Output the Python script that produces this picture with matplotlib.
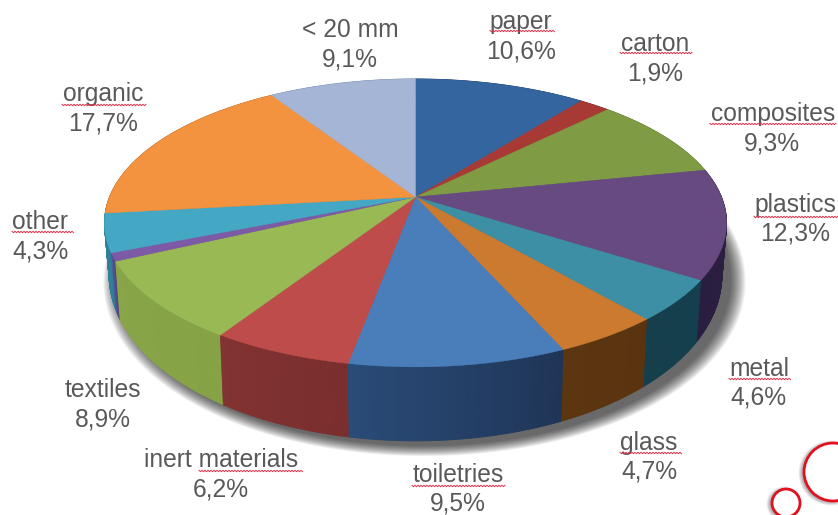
import numpy as np
import matplotlib
matplotlib.use("Agg")
import matplotlib.pyplot as plt
from matplotlib.patches import Circle

plt.rcParams['font.family'] = ['Liberation Sans', 'DejaVu Sans']

# clockwise from 12 o'clock
names = ['paper', 'carton', 'composites', 'plastics', 'metal', 'glass', 'toiletries',
         'inert materials', 'textiles', 'unnamed', 'other', 'organic', '< 20 mm']
values = [10.6, 1.9, 9.3, 12.3, 4.6, 4.7, 9.5, 6.2, 8.9, 0.9, 4.3, 17.7, 9.1]
top_colors = ['#34659f', '#a83a36', '#7f9c44', '#664a80', '#3c8fa5', '#cb7a30', '#4a7ebb',
              '#be4c4a', '#98b954', '#7d5aa6', '#44a8c4', '#f4933f', '#a5b5d5']
wall_start = ['#1f3f68', '#6a2322', '#4f6428', '#2e2044', '#143f4c', '#5a340f', '#1f3557',
              '#7a2e2d', '#86a346', '#5c3f80', '#2f7f98', '#a8601f', '#6a7da0']
wall_end = ['#1f3f68', '#6a2322', '#4f6428', '#2a1e40', '#163f4c', '#5c3610', '#2a4c78',
            '#823332', '#89a648', '#3a6ea0', '#2f7f98', '#a8601f', '#6a7da0']

# label positions in pixels: name line and value line
label_x = [521, 655, 773, 795, 759, 649, 458, 221, 103, None, 40, 103, 350]
label_y = [22, 44, 114, 205, 369, 443, 475, 460, 390, None, 222, 94, 30]
value_dx = [0, 0, -1, 0, -1, 0, 0, 0, 0, None, 0, 0, 0]
# red spell check underlines: x from, x to, y
squiggles = [(490, 555, 31), (620, 692, 53), (710, 836, 124), (754, 838, 217), (729, 790, 379),
             (620, 682, 453), (412, 505, 486), (199, 302, 471), (12, 73, 232), (62, 146, 105)]

cx, cy = 415.5, 197
a, b, k = 306, 139.3, 0.18


def project(theta, wall=False):
    u = np.sin(theta)
    v = np.cos(theta)
    s = 1 / (1 + k * v)
    x = cx + a * u * s
    y = cy - b * v * s
    if wall:
        x = cx + a * 0.985 * u * s
        y = y + 47 - 27 * v
    return x, y


def mix(c1, c2, t):
    c1 = np.array(matplotlib.colors.to_rgb(c1))
    c2 = np.array(matplotlib.colors.to_rgb(c2))
    return tuple(c1 + (c2 - c1) * t)


fig = plt.figure(figsize=(8.38, 5.15), dpi=100)
ax = fig.add_axes([0, 0, 1, 1])
ax.set_xlim(0, 838)
ax.set_ylim(515, 0)
ax.axis('off')

edges = 2 * np.pi * np.cumsum([0] + values) / sum(values)

# soft shadow under the pie, falls to the lower right
full = np.linspace(0, 2 * np.pi, 300)
for i in range(16):
    grow = 1 + 0.0032 * i
    sx, sy = project(full, wall=True)
    ax.fill(cx + (sx - cx) * grow + 9, cy + 30 + (sy - cy - 30) * grow + 5,
            color='black', alpha=0.05, lw=0, zorder=1)

# walls, back to front
quads = []
for i in range(len(values)):
    steps = max(4, int(values[i] * 6))
    t = np.linspace(edges[i], edges[i + 1], steps + 1)
    for j in range(steps):
        quads.append((t[j], t[j + 1], mix(wall_start[i], wall_end[i], j / steps)))
quads.sort(key=lambda q: np.cos(q[0]), reverse=True)
for t0, t1, col in quads:
    tt = np.array([t0, t1])
    x1, y1 = project(tt)
    x2, y2 = project(tt, wall=True)
    ax.fill(np.r_[x1, x2[::-1]], np.r_[y1, y2[::-1]], color=col, lw=0.6, zorder=2)

# top face
for i in range(len(values)):
    t = np.linspace(edges[i], edges[i + 1], 80)
    x, y = project(t)
    ax.fill(np.r_[cx, x], np.r_[cy, y], color=top_colors[i], lw=0.3, zorder=3)

# labels
for i in range(len(values)):
    if label_x[i] is None:
        continue
    pct = f'{values[i]:.1f}%'.replace('.', ',')
    ax.text(label_x[i], label_y[i], names[i], fontsize=17.7, color='#595959',
            ha='center', va='center', zorder=5)
    ax.text(label_x[i] + value_dx[i], label_y[i] + 29, pct, fontsize=17.7, color='#595959',
            ha='center', va='center', zorder=5)

for x0, x1, y0 in squiggles:
    xs = np.arange(x0, x1 + 1, 1.5)
    ys = y0 + np.where(np.arange(len(xs)) % 2 == 0, -0.7, 0.7)
    ax.plot(xs, ys, color='#e0304a', lw=0.7, zorder=6)

# red circles, bottom right corner
for ccx, ccy, r in [(833, 472, 29), (786, 503, 14)]:
    for i in range(6):
        ax.add_patch(Circle((ccx - 2, ccy + 1), r + 0.7 * i, color='black', alpha=0.06, lw=0, zorder=7))
    ax.add_patch(Circle((ccx, ccy), r, facecolor='white', edgecolor='#e3101f', lw=2, zorder=8))

fig.savefig('out.png', dpi=100)
